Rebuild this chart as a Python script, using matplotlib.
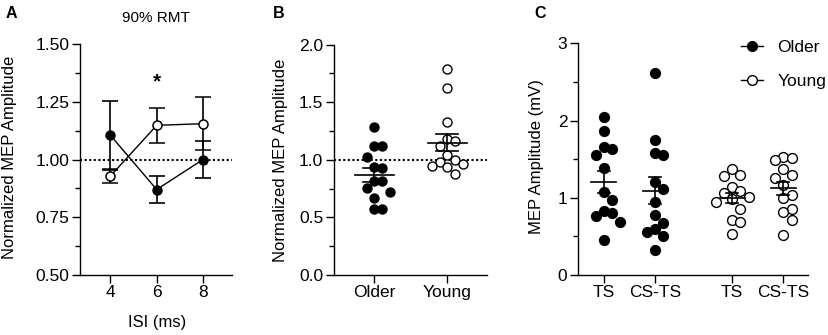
import numpy as np
import matplotlib
matplotlib.use("Agg")
import matplotlib.pyplot as plt
from matplotlib.lines import Line2D
from matplotlib.ticker import MultipleLocator, FormatStrFormatter

plt.rcParams['font.family'] = ['Liberation Sans', 'DejaVu Sans']

# ---------------- data ----------------
# Panel A: ISI curve (mean +/- SEM)
isi = [4, 6, 8]
older_a_mean = [1.105, 0.870, 1.000]
older_a_sem = [0.150, 0.060, 0.078]
young_a_mean = [0.928, 1.148, 1.155]
young_a_sem = [0.030, 0.077, 0.115]

# Panel B: normalized MEP amplitude at 6 ms
group_labels = ["Older", "Young"]
older_b = [1.285, 1.117, 1.117, 1.025, 0.94, 0.93, 0.813, 0.813, 0.755, 0.72, 0.67, 0.573, 0.573]
young_b = [1.79, 1.62, 1.33, 1.18, 1.16, 1.12, 1.04, 1.00, 0.98, 0.96, 0.95, 0.94, 0.88]

# Panel C: raw MEP amplitude (mV)
cond_labels = ["TS", "CS-TS", "TS", "CS-TS"]
older_ts = [2.04, 1.87, 1.66, 1.63, 1.55, 1.38, 1.07, 0.97, 0.83, 0.80, 0.77, 0.69, 0.45]
older_csts = [2.62, 1.75, 1.58, 1.56, 1.20, 1.11, 0.95, 0.78, 0.67, 0.60, 0.56, 0.51, 0.32]
young_ts = [1.37, 1.30, 1.28, 1.14, 1.09, 1.06, 1.01, 0.99, 0.95, 0.85, 0.71, 0.69, 0.53]
young_csts = [1.53, 1.51, 1.49, 1.37, 1.30, 1.25, 1.16, 1.04, 1.00, 0.86, 0.82, 0.71, 0.52]

# ---------------- figure ----------------
W, H = 829, 335
fig = plt.figure(figsize=(W / 100, H / 100), dpi=100)


def axes_px(left, top, right, bottom):
    return fig.add_axes([left / W, 1 - bottom / H, (right - left) / W, (bottom - top) / H])


TICK_FS = 12.5
LABEL_FS = 12
LW = 1.0


def style(ax):
    for s in ("top", "right"):
        ax.spines[s].set_visible(False)
    for s in ("left", "bottom"):
        ax.spines[s].set_linewidth(LW)
    ax.tick_params(axis="both", which="major", direction="out", length=5.8, width=LW,
                   labelsize=TICK_FS, color="black")
    ax.tick_params(axis="y", which="major", pad=2.0)
    ax.tick_params(axis="x", which="major", pad=1.5)
    ax.tick_params(axis="y", which="minor", direction="out", length=3.6, width=LW)
    ax.tick_params(axis="x", which="minor", bottom=False)


def swarm(values, step_px, ppu_y, row_px):
    values = np.asarray(values, dtype=float)
    order = np.argsort(-values, kind="stable")
    cands = [0] + [s * k for k in range(1, 10) for s in (1, -1)]
    placed = []
    offs = np.zeros(len(values))
    for i in order:
        y = values[i] * ppu_y
        chosen = 0
        for c in cands:
            if all(not (c == pc and abs(y - py) < row_px) for pc, py in placed):
                chosen = c
                break
        placed.append((chosen, y))
        offs[i] = chosen * step_px
    return offs


def mean_sem(ax, x, vals, half_w, cap_w):
    v = np.asarray(vals, dtype=float)
    m = v.mean()
    se = v.std(ddof=1) / np.sqrt(len(v))
    ax.plot([x - half_w, x + half_w], [m, m], color="black", lw=1.2, zorder=5)
    ax.plot([x, x], [m - se, m + se], color="black", lw=1.2, zorder=5)
    for yy in (m - se, m + se):
        ax.plot([x - cap_w, x + cap_w], [yy, yy], color="black", lw=1.2, zorder=5)


# ---------------- Panel A ----------------
axA = axes_px(80, 44, 232, 275)
style(axA)
axA.set_xlim(2.69, 9.25)
axA.set_ylim(0.5, 1.5)
axA.axhline(1.0, color="black", lw=1.5, ls=(0, (1, 1.2)), zorder=1)
axA.errorbar(isi, older_a_mean, yerr=older_a_sem, color="black", lw=1.0, elinewidth=1.2,
             capsize=5.5, capthick=1.2, marker="o", ms=6.5, mfc="black", mec="black", zorder=3)
axA.errorbar(isi, young_a_mean, yerr=young_a_sem, color="black", lw=1.0, elinewidth=1.2,
             capsize=5.5, capthick=1.2, marker="o", ms=6.5, mfc="white", mec="black", mew=1.1, zorder=4)
axA.set_xticks(isi)
axA.set_yticks([0.5, 0.75, 1.0, 1.25, 1.5])
axA.yaxis.set_major_formatter(FormatStrFormatter("%.2f"))
axA.yaxis.set_minor_locator(MultipleLocator(0.125))
axA.text(6, 1.335, "*", ha="center", va="center", fontsize=15, fontweight="bold")
axA.set_title("90% RMT", fontsize=11, pad=15.5)

# ---------------- Panel B ----------------
axB = axes_px(334, 44.7, 487, 275)
style(axB)
axB.set_xlim(-0.554, 1.546)
axB.set_ylim(0, 2.0)
axB.axhline(1.0, color="black", lw=1.5, ls=(0, (1, 1.2)), zorder=1)
ppu_xB = 72.7
ppu_yB = 230.3 / 2.0
for xi, vals, fc in ((0, older_b, "black"), (1, young_b, "white")):
    offs = swarm(vals, 7.7, ppu_yB, 11.0) / ppu_xB
    axB.scatter(xi + offs, vals, s=42, facecolor=fc, edgecolor="black", linewidth=1.0, zorder=3)
    mean_sem(axB, xi, vals, 19.5 / ppu_xB, 11 / ppu_xB)
axB.set_xticks([0, 1])
axB.set_xticklabels(group_labels)
axB.set_yticks([0, 0.5, 1.0, 1.5, 2.0])
axB.yaxis.set_major_formatter(FormatStrFormatter("%.1f"))
axB.yaxis.set_minor_locator(MultipleLocator(0.25))

# ---------------- Panel C ----------------
axC = axes_px(578.3, 43.3, 808.3, 275)
style(axC)
axC.set_xlim(-0.5, 3.985)
axC.set_ylim(0, 3)
ppu_xC = 51.5
ppu_yC = 231.7 / 3.0
xpos = [0, 1, 2.5, 3.5]
groups = [(older_ts, "black"), (older_csts, "black"), (young_ts, "white"), (young_csts, "white")]
for xi, (vals, fc) in zip(xpos, groups):
    offs = swarm(vals, 8.3, ppu_yC, 11.5) / ppu_xC
    axC.scatter(xi + offs, vals, s=50, facecolor=fc, edgecolor="black", linewidth=1.0, zorder=3)
    mean_sem(axC, xi, vals, 12.5 / ppu_xC, 6 / ppu_xC)
axC.set_xticks(xpos)
axC.set_xticklabels(cond_labels)
axC.set_yticks([0, 1, 2, 3])
axC.yaxis.set_minor_locator(MultipleLocator(0.5))

handles = [Line2D([], [], color="black", lw=1.0, marker="o", ms=7.0, mfc="black", mec="black"),
           Line2D([], [], color="black", lw=1.0, marker="o", ms=7.0, mfc="white", mec="black")]
fig.legend(handles, ["Older", "Young"], loc="upper left", bbox_to_anchor=(741 / W, 1 - 40 / H),
           frameon=False, fontsize=12.5, handlelength=1.25, handletextpad=0.85,
           labelspacing=1.1, borderpad=0, borderaxespad=0)

# ---------------- labels ----------------
fig.text(9.7 / W, 1 - 157 / H, "Normalized MEP Amplitude", rotation=90, ha="center", va="center",
         fontsize=LABEL_FS)
fig.text(281 / W, 1 - 160 / H, "Normalized MEP Amplitude", rotation=90, ha="center", va="center",
         fontsize=LABEL_FS)
fig.text(537 / W, 1 - 157 / H, "MEP Amplitude (mV)", rotation=90, ha="center", va="center",
         fontsize=LABEL_FS)
fig.text(157 / W, 1 - 322 / H, "ISI (ms)", ha="center", va="center", fontsize=LABEL_FS)

for lab, x in (("A", 11), ("B", 279), ("C", 540)):
    fig.text(x / W, 1 - 13 / H, lab, ha="center", va="center", fontsize=11.5, fontweight="bold")

fig.savefig("out.png", dpi=100)
